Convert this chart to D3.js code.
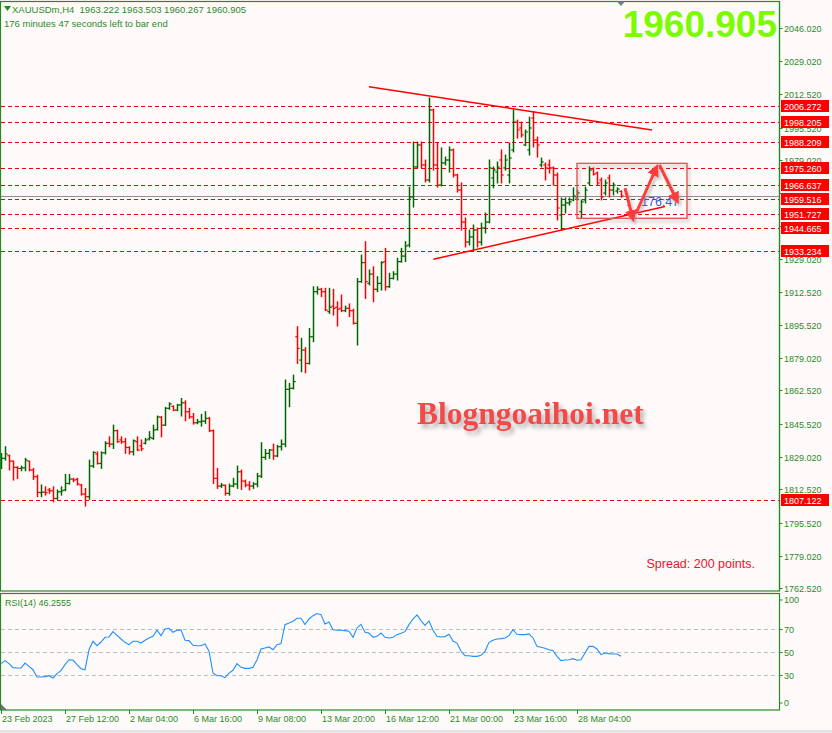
<!DOCTYPE html>
<html><head><meta charset="utf-8">
<script src="https://cdn.jsdelivr.net/npm/d3@7"></script>
<style>html,body{margin:0;padding:0;background:#fffafa;}svg{display:block}</style>
</head><body>
<svg id="c" width="832" height="733"></svg>
<script>
// ---------------- DATA ----------------
const symbolTitle = "XAUUSDm,H4";
const headerOHLC = ["1963.222", "1963.503", "1960.267", "1960.905"];
const timerText = "176 minutes 47 seconds left to bar end";
const lastPrice = 1960.905;
const rsiLabel = "RSI(14) 46.2555";
const spreadText = "Spread: 200 points.";
const watermark = "Blogngoaihoi.net";
const countdown = "176:47";

const opens = [
1827.3,1828.2,1829.5,1826.8,1823.6,1823.1,1823.4,1826.8,1822.3,1818.9,1810.8,1811.1,1812.2,1811.8,1807.9,1811.3,1812.2,1815.5,1817.7,1817.5,
1814.7,1810.1,1808.8,1824.3,1830.4,1825.6,1831.0,1835.8,1835.4,1842.2,1837.5,1836.6,1833.7,1831.5,1836.6,1834.5,1835.8,1838.0,1838.3,1842.8,
1848.9,1845.0,1853.5,1854.5,1852.6,1855.2,1856.3,1851.8,1849.2,1846.2,1846.7,1847.0,1848.4,1842.2,1818.1,1814.2,1814.6,1810.5,1814.2,1815.2,
1821.4,1816.7,1814.7,1814.2,1815.2,1819.2,1828.7,1830.7,1832.4,1829.4,1834.1,1835.4,1863.1,1863.6,1889.7,1877.9,1883.0,1876.2,1889.7,1912.5,
1913.7,1912.5,1902.4,1905.2,1904.6,1904.1,1902.9,1904.1,1902.9,1896.5,1917.6,1927.2,1916.7,1921.4,1913.7,1916.7,1927.7,1915.0,1919.2,1921.4,
1927.7,1930.5,1936.1,1960.4,1975.6,1986.7,1976.6,1969.0,2004.4,1976.6,1966.4,1977.6,1979.1,1984.2,1971.5,1963.9,1947.7,1937.6,1940.2,1943.7,
1937.6,1944.7,1947.7,1970.0,1973.0,1979.1,1975.1,1971.5,1984.2,1998.3,1995.3,1986.7,1984.2,2000.3,1989.2,1976.6,1976.6,1976.6,1975.1,1971.5,
1951.3,1956.3,1957.4,1958.9,1959.9,1953.0,1958.9,1967.5,1974.5,1972.5,1969.0,1962.4,1970.0,1963.9,1963.4,1963.222];
const highs = [
1830.7,1834.1,1829.9,1826.8,1824.0,1824.3,1828.2,1826.8,1823.1,1819.7,1814.7,1813.8,1813.0,1813.8,1812.2,1813.8,1820.1,1820.1,1818.1,1818.1,
1815.0,1813.0,1827.3,1831.5,1831.5,1831.5,1836.6,1839.1,1845.0,1842.5,1839.1,1838.3,1834.1,1837.5,1839.1,1837.5,1838.3,1841.7,1845.0,1849.6,
1849.4,1854.0,1856.3,1854.7,1855.5,1858.5,1857.3,1853.5,1850.9,1847.9,1850.4,1851.8,1848.9,1842.5,1823.1,1815.5,1814.7,1815.2,1818.1,1824.3,
1822.3,1817.2,1816.4,1815.9,1820.6,1836.1,1832.7,1832.7,1835.4,1834.8,1837.5,1867.8,1866.1,1870.3,1894.8,1888.9,1884.2,1893.9,1915.0,1915.0,
1914.2,1914.2,1914.2,1913.7,1907.4,1910.8,1905.2,1906.3,1903.6,1919.2,1931.0,1937.8,1923.5,1925.1,1920.1,1927.7,1934.4,1921.8,1922.6,1929.4,
1934.4,1937.8,1965.4,1988.2,1988.2,1988.2,1979.1,2010.5,2004.8,1987.7,1985.2,1980.6,1985.7,1984.6,1971.9,1967.5,1949.8,1943.7,1946.2,1944.7,
1947.2,1952.3,1979.1,1975.6,1978.1,1984.2,1981.6,1987.7,2004.4,1999.3,1998.3,1994.3,2000.8,2003.4,1990.7,1980.1,1977.6,1979.1,1975.6,1972.5,
1959.9,1959.9,1959.9,1965.0,1963.9,1958.9,1965.4,1975.6,1975.1,1973.0,1970.0,1969.0,1971.5,1967.5,1965.0,1963.503];
const lows = [
1823.1,1827.3,1822.3,1817.2,1818.0,1821.9,1821.9,1821.9,1817.5,1808.8,1808.8,1809.6,1810.5,1806.2,1807.5,1809.6,1811.8,1815.2,1816.4,1814.7,
1809.6,1804.1,1807.5,1823.6,1825.3,1823.1,1830.4,1834.1,1833.2,1836.3,1835.8,1830.7,1830.4,1829.9,1832.1,1832.1,1835.5,1837.5,1837.8,1842.5,
1839.1,1844.8,1853.0,1852.3,1852.3,1849.6,1847.2,1848.4,1845.5,1845.7,1844.5,1845.9,1841.7,1815.5,1813.0,1813.5,1809.6,1809.6,1813.8,1813.0,
1812.5,1813.8,1812.2,1813.0,1813.8,1818.5,1827.7,1828.2,1827.7,1829.0,1832.4,1834.1,1854.3,1863.3,1876.2,1872.0,1871.5,1875.9,1887.2,1911.3,
1910.0,1902.9,1901.5,1900.7,1895.1,1902.4,1902.4,1899.9,1896.1,1885.5,1917.2,1909.1,1915.9,1907.4,1912.5,1913.3,1913.3,1914.7,1918.9,1918.4,
1927.4,1927.7,1935.1,1955.3,1975.3,1975.1,1968.0,1968.0,1974.0,1965.4,1966.0,1976.6,1973.0,1970.5,1962.9,1943.7,1935.1,1936.1,1933.6,1935.1,
1936.1,1942.2,1947.3,1965.0,1967.5,1967.5,1974.0,1967.5,1983.2,1990.2,1990.7,1986.4,1981.6,1985.7,1980.6,1975.6,1969.0,1972.5,1966.4,1948.8,
1943.7,1952.3,1956.3,1958.5,1958.9,1949.8,1957.4,1966.4,1971.5,1966.4,1958.9,1961.4,1960.4,1961.4,1962.4,1960.267];
const closes = [
1828.2,1830.4,1826.8,1823.6,1823.1,1823.4,1827.3,1822.3,1818.9,1811.0,1811.1,1810.8,1811.8,1807.9,1811.3,1811.8,1815.5,1817.7,1817.2,1815.2,
1810.1,1808.8,1824.3,1831.2,1825.6,1831.0,1835.8,1835.4,1842.2,1836.6,1836.6,1833.7,1831.5,1837.1,1832.4,1833.0,1837.5,1838.8,1842.5,1849.2,
1845.0,1853.5,1855.7,1852.6,1855.2,1856.3,1851.8,1849.2,1846.2,1846.7,1847.0,1848.4,1842.2,1818.1,1814.2,1814.6,1810.5,1814.2,1815.2,1821.4,
1816.7,1814.7,1814.2,1815.2,1819.2,1828.7,1830.7,1832.4,1829.4,1834.1,1835.4,1863.1,1863.6,1867.0,1883.8,1883.0,1876.2,1889.7,1912.5,1913.7,
1912.5,1903.2,1904.6,1904.1,1903.6,1902.9,1904.1,1902.9,1896.5,1917.6,1927.2,1917.6,1921.4,1913.7,1916.7,1927.2,1915.0,1919.2,1921.4,1927.7,
1930.5,1935.6,1960.4,1975.6,1986.7,1976.6,1969.0,2004.4,1976.6,1966.4,1977.6,1979.1,1984.2,1971.5,1963.9,1947.7,1937.6,1940.2,1943.7,1937.6,
1944.7,1947.7,1975.1,1974.0,1975.5,1971.5,1979.1,1980.1,1998.3,1994.3,1991.8,1993.3,1995.3,1989.2,1986.7,1978.1,1975.1,1975.1,1971.5,1954.8,
1956.3,1957.4,1957.9,1960.9,1962.4,1957.9,1963.9,1974.0,1972.0,1967.5,1960.4,1967.5,1963.9,1966.4,1964.4,1960.905];

const rsiValues = [
39.9,42.5,39.9,36.4,36.1,36.1,40.4,37.5,34.6,28.3,28.3,28.6,29.4,27.4,31.2,33.8,39.0,43.3,43.0,39.0,35.5,34.6,52.0,59.3,55.5,
58.7,62.8,63.1,67.7,64.5,61.3,58.4,56.4,59.3,59.3,57.8,60.2,62.2,63.6,68.9,64.2,70.0,70.6,67.1,68.9,69.2,60.2,59.9,55.8,55.5,
55.5,57.0,50.6,31.7,29.4,29.4,27.7,31.7,34.1,39.9,36.7,35.8,35.8,36.7,43.3,52.6,53.5,54.4,52.0,56.4,57.3,73.8,75.2,76.7,79.3,
79.3,73.8,78.7,81.6,83.4,82.5,74.4,76.1,69.4,68.9,68.9,68.6,68.0,62.8,70.9,74.1,67.1,66.5,62.8,63.6,66.5,62.8,62.2,62.8,65.1,
66.3,67.7,73.8,78.7,82.2,77.3,73.2,77.0,68.9,63.6,63.1,63.4,65.4,59.6,57.8,50.6,46.8,46.8,46.2,46.2,47.1,50.6,58.4,60.2,61.3,
61.6,62.2,64.2,69.4,65.4,65.1,65.1,65.7,62.2,54.9,54.1,53.2,52.0,51.2,46.2,42.5,43.1,43.3,44.2,42.8,43.3,49.1,54.9,54.9,52.6,
47.7,49.1,48.6,48.3,48.3,46.26];

const priceTicks = [2046.02,2029.02,2012.52,1995.52,1979.02,1962.52,1945.52,1929.02,1912.52,1895.52,1879.02,1862.52,1845.52,1829.02,1812.52,1795.52,1779.02,1762.52];
const levelLines = [2006.272,1998.205,1988.209,1975.260,1966.637,1959.516,1951.727,1944.665,1933.234,1807.122];
const rsiLevels = [70,50,30];
const rsiTicks = [100,70,50,30,0];
const xTickIndex = [0,16,32,48,64,80,96,112,128,144];
const xTickLabels = ["23 Feb 2023","27 Feb 12:00","2 Mar 04:00","6 Mar 16:00","9 Mar 08:00","13 Mar 20:00","16 Mar 12:00","21 Mar 00:00","23 Mar 16:00","28 Mar 04:00"];

// drawings, in (bar index, price)
const trendLines = [
  [[92, 2016.2], [162.75, 1994.3]],
  [[108.1, 1928.9], [166, 1955.6]]
];
const boxRange = {i0: 144, i1: 171.5, pTop: 1977.4, pBot: 1949.6};
const arrows = [
  [[156, 1964.9], [157.9, 1950.0]],
  [[158.9, 1952.8], [163.75, 1974.8]],
  [[164.6, 1976.6], [168.9, 1959.0]]
];

// ---------------- LAYOUT ----------------
const green = "#228b22", txt = "#2a8a2a";
const font = "'Liberation Sans', Arial, sans-serif";
const svg = d3.select("#c");
const x = d3.scaleLinear().domain([0, 155]).range([1, 621]);
const y = d3.scaleLinear().domain([1762.52, 2046.02]).range([588.2, 27.7]);
const yr = d3.scaleLinear().domain([0, 100]).range([709.5, 594.5]);
const axisX = 779.5;

const defs = svg.append("defs");
const sh = defs.append("filter").attr("id","shadow").attr("x","-20%").attr("y","-30%").attr("width","150%").attr("height","180%");
sh.append("feDropShadow").attr("dx",3).attr("dy",4).attr("stdDeviation",2).attr("flood-color","#777").attr("flood-opacity",0.55);
const sh2 = defs.append("filter").attr("id","shadow2").attr("x","-50%").attr("y","-50%").attr("width","200%").attr("height","200%");
sh2.append("feDropShadow").attr("dx",2).attr("dy",3).attr("stdDeviation",1.5).attr("flood-color","#888").attr("flood-opacity",0.5);
defs.append("clipPath").attr("id","mainClip").append("rect").attr("x",1).attr("y",2).attr("width",778).attr("height",589);
defs.append("marker").attr("id","ah").attr("viewBox","0 0 10 10").attr("refX",6).attr("refY",5)
  .attr("markerWidth",4).attr("markerHeight",4).attr("orient","auto")
  .append("path").attr("d","M0,0 L10,5 L0,10 z").attr("fill","#ff3a3a");

svg.append("rect").attr("width",832).attr("height",733).attr("fill","#fffafa");
svg.append("rect").attr("x",0).attr("y",730).attr("width",832).attr("height",3).attr("fill","#e4e4e4");

// main panel frame
svg.append("rect").attr("x",0.5).attr("y",1.5).attr("width",779).attr("height",589.5)
  .attr("fill","#fffafa").attr("stroke",green).attr("stroke-width",1.2);
// rsi panel frame
svg.append("rect").attr("x",0.5).attr("y",593.5).attr("width",779).attr("height",116.5)
  .attr("fill","#fffafa").attr("stroke",green).attr("stroke-width",1.2);

const main = svg.append("g").attr("clip-path","url(#mainClip)");

// horizontal level lines
main.selectAll("line.lvl").data(levelLines).enter().append("line")
  .attr("x1",1).attr("x2",axisX).attr("y1",d=>Math.round(y(d))+0.5).attr("y2",d=>Math.round(y(d))+0.5)
  .attr("stroke","#e8000b").attr("stroke-width",1).attr("stroke-dasharray","4,3");
// current price line
main.append("line").attr("x1",1).attr("x2",axisX).attr("y1",Math.round(y(lastPrice))+0.5).attr("y2",Math.round(y(lastPrice))+0.5)
  .attr("stroke","#8a8f9c").attr("stroke-width",1);

// OHLC bars
const bars = main.append("g");
opens.forEach((o,i)=>{
  const col = closes[i] >= o ? "#006400" : "#ff0000";
  const cx = Math.round(x(i)) + 0.5;
  const g = bars.append("g").attr("stroke",col);
  g.append("line").attr("x1",cx).attr("x2",cx).attr("y1",y(highs[i])-0.5).attr("y2",y(lows[i])+0.5).attr("stroke-width",1.5);
  g.append("line").attr("x1",cx-2.2).attr("x2",cx).attr("y1",y(o)).attr("y2",y(o)).attr("stroke-width",1.2);
  g.append("line").attr("x1",cx).attr("x2",cx+2.2).attr("y1",y(closes[i])).attr("y2",y(closes[i])).attr("stroke-width",1.2);
});

// trend lines
main.selectAll("line.tr").data(trendLines).enter().append("line")
  .attr("x1",d=>x(d[0][0])).attr("y1",d=>y(d[0][1])).attr("x2",d=>x(d[1][0])).attr("y2",d=>y(d[1][1]))
  .attr("stroke","#ff0000").attr("stroke-width",1.5);

// box
main.append("rect").attr("x",x(boxRange.i0)).attr("y",y(boxRange.pTop))
  .attr("width",x(boxRange.i1)-x(boxRange.i0)).attr("height",y(boxRange.pBot)-y(boxRange.pTop))
  .attr("fill","none").attr("stroke","#e45454").attr("stroke-width",1.4).attr("filter","url(#shadow2)");

// countdown text
main.append("text").attr("x",626).attr("y",y(lastPrice)+10).attr("font-family",font).attr("font-size",12.5)
  .attr("fill","#3a5ae0").text(":");
main.append("text").attr("x",x(156)+16).attr("y",y(lastPrice)+10).attr("font-family",font).attr("font-size",12.5)
  .attr("fill","#3a5ae0").text(countdown);

// arrows
main.selectAll("line.arr").data(arrows).enter().append("line")
  .attr("x1",d=>x(d[0][0])).attr("y1",d=>y(d[0][1])).attr("x2",d=>x(d[1][0])).attr("y2",d=>y(d[1][1]))
  .attr("stroke","#ff3a3a").attr("stroke-width",3).attr("marker-end","url(#ah)").attr("filter","url(#shadow2)");

// watermark
main.append("text").attr("x",417).attr("y",424).attr("font-family","'Liberation Serif','Times New Roman',serif")
  .attr("font-weight","bold").attr("font-size",31.5).attr("fill","#f24848").attr("filter","url(#shadow)").text(watermark);

// spread
main.append("text").attr("x",646.5).attr("y",568).attr("font-family",font).attr("font-size",12.5)
  .attr("fill","#f0102a").text(spreadText);

// big price
svg.append("text").attr("x",777).attr("y",37).attr("text-anchor","end").attr("font-family",font)
  .attr("font-weight","bold").attr("font-size",37).attr("fill","#7cfc00").text(lastPrice.toFixed(3));

// header
svg.append("path").attr("d","M4,6 L11,6 L7.5,11 z").attr("fill",green);
svg.append("text").attr("x",12).attr("y",13).attr("font-family",font).attr("font-size",9.5).attr("fill",txt)
  .attr("xml:space","preserve").text(symbolTitle + "  " + headerOHLC.join(" "));
svg.append("text").attr("x",4).attr("y",26.5).attr("font-family",font).attr("font-size",9.5).attr("fill",txt).text(timerText);
// small gray marker on top
svg.append("path").attr("d","M617,1.5 L625,1.5 L621,6 z").attr("fill","#708090");

// price axis
svg.append("line").attr("x1",axisX).attr("x2",axisX).attr("y1",1).attr("y2",591).attr("stroke",green).attr("stroke-width",1.2);
const pa = svg.append("g");
// visible height of a tick label once the red level tags are drawn over it
function visiblePx(v){
  const a = y(v) - 4.5, b = y(v) + 4.5;
  let vis = 0;
  for (let t = a; t < b; t += 0.25) {
    if (!levelLines.some(l => t >= y(l) - 6.5 && t <= y(l) + 5.5)) vis += 0.25;
  }
  return vis;
}
priceTicks.forEach(v=>{
  const yy = Math.round(y(v))+0.5;
  pa.append("line").attr("x1",axisX).attr("x2",axisX+3).attr("y1",yy).attr("y2",yy).attr("stroke",green);
  if (visiblePx(v) >= 3)
    pa.append("text").attr("x",784).attr("y",yy+3.3).attr("font-family",font).attr("font-size",9).attr("fill",txt).text(v.toFixed(3));
});
// red level tags
levelLines.forEach(v=>{
  const yy = Math.round(y(v))+0.5;
  pa.append("rect").attr("x",781).attr("y",yy-6.5).attr("width",48).attr("height",12).attr("fill","#ff0000");
  pa.append("text").attr("x",784).attr("y",yy+3.3).attr("font-family",font).attr("font-size",9).attr("fill","#ffffff").text(v.toFixed(3));
});

// RSI panel
const rg = svg.append("g");
rg.selectAll("line.rl").data(rsiLevels).enter().append("line")
  .attr("x1",1).attr("x2",axisX).attr("y1",d=>Math.round(yr(d))+0.5).attr("y2",d=>Math.round(yr(d))+0.5)
  .attr("stroke","#bdbdbd").attr("stroke-dasharray","4,3");
rg.append("path").datum(rsiValues)
  .attr("d",d3.line().x((d,i)=>x(i)).y(d=>yr(d)))
  .attr("fill","none").attr("stroke","#1e90ff").attr("stroke-width",1.1);
rg.append("text").attr("x",5).attr("y",606).attr("font-family",font).attr("font-size",9).attr("fill",txt).text(rsiLabel);
rg.append("path").attr("d","M1,704 L1,710 L7,710 z").attr("fill","#707070");
rsiTicks.forEach(v=>{
  const yy = Math.round(yr(v))+0.5;
  const ly = Math.min(Math.max(yy, 600), 703);
  rg.append("line").attr("x1",axisX).attr("x2",axisX+3).attr("y1",ly).attr("y2",ly).attr("stroke",green);
  rg.append("text").attr("x",784).attr("y",ly+3.3).attr("font-family",font).attr("font-size",9).attr("fill",txt).text(v);
});

// time axis
xTickIndex.forEach((idx,k)=>{
  const xx = Math.round(x(idx))+0.5;
  svg.append("line").attr("x1",xx).attr("x2",xx).attr("y1",710).attr("y2",714).attr("stroke",green);
  svg.append("text").attr("x",xx+0.5).attr("y",722).attr("font-family",font).attr("font-size",9).attr("fill",txt).text(xTickLabels[k]);
});
</script>
</body></html>
